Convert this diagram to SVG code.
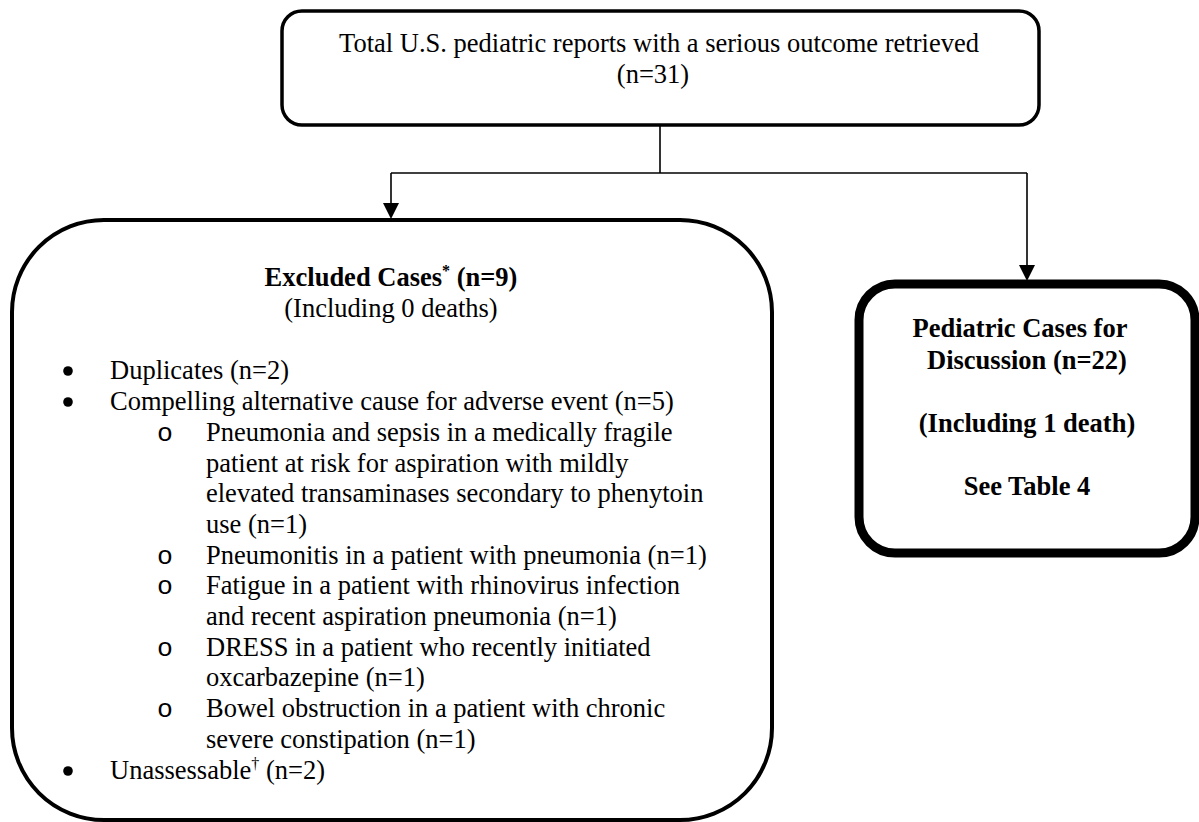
<svg xmlns="http://www.w3.org/2000/svg" width="1199" height="822" viewBox="0 0 1199 822">
<style>
.box{fill:#fff;stroke:#000}
.t{font-family:"Liberation Serif","Times New Roman",serif;font-size:26.5px;fill:#000}
.b{font-weight:bold}
.c{text-anchor:middle}
.m{font-family:"Liberation Mono","Courier New",monospace}
.sup{font-size:16px}
.dot{fill:#000}
.conn{fill:none;stroke:#000;stroke-width:1.6}
.head{fill:#000;stroke:none}
</style>
<rect width="1199" height="822" fill="#fff"/>
<g id="connectors">
<path class="conn" d="M660,125 V173"/>
<path class="conn" d="M391,173 H1027"/>
<path class="conn" d="M391,173 V205"/>
<path class="conn" d="M1027,173 V268"/>
<path class="head" d="M383,203 L399,203 L391,219 Z"/>
<path class="head" d="M1019,265 L1035,265 L1027,281 Z"/>
</g>
<g id="top">
<rect class="box" x="282" y="11" width="757" height="114" rx="20" stroke-width="3.5"/>
<text class="t c" x="659" y="52">Total U.S. pediatric reports with a serious outcome retrieved</text>
<text class="t c" x="653" y="83">(n=31)</text>
</g>
<g id="excluded">
<rect class="box" x="12" y="220" width="760" height="600" rx="92" stroke-width="4"/>
<text class="t c b" x="391" y="286">Excluded Cases<tspan class="sup" dy="-10">*</tspan><tspan dy="10"> (n=9)</tspan></text>
<text class="t c" x="391" y="317">(Including 0 deaths)</text>
<circle class="dot" cx="68" cy="371" r="4.8"/><text class="t" x="110" y="379">Duplicates (n=2)</text>
<circle class="dot" cx="68" cy="402" r="4.8"/><text class="t" x="110" y="410">Compelling alternative cause for adverse event (n=5)</text>
<text class="t m" x="157" y="441">o</text><text class="t" x="206" y="441">Pneumonia and sepsis in a medically fragile</text>
<text class="t" x="206" y="472">patient at risk for aspiration with mildly</text>
<text class="t" x="206" y="502">elevated transaminases secondary to phenytoin</text>
<text class="t" x="206" y="533">use (n=1)</text>
<text class="t m" x="157" y="564">o</text><text class="t" x="206" y="564">Pneumonitis in a patient with pneumonia (n=1)</text>
<text class="t m" x="157" y="594">o</text><text class="t" x="206" y="594">Fatigue in a patient with rhinovirus infection</text>
<text class="t" x="206" y="625">and recent aspiration pneumonia (n=1)</text>
<text class="t m" x="157" y="656">o</text><text class="t" x="206" y="656">DRESS in a patient who recently initiated</text>
<text class="t" x="206" y="686">oxcarbazepine (n=1)</text>
<text class="t m" x="157" y="717">o</text><text class="t" x="206" y="717">Bowel obstruction in a patient with chronic</text>
<text class="t" x="206" y="748">severe constipation (n=1)</text>
<circle class="dot" cx="68" cy="771" r="4.8"/><text class="t" x="110" y="779">Unassessable<tspan class="sup" dy="-10">†</tspan><tspan dy="10"> (n=2)</tspan></text>
</g>
<g id="discussion">
<rect class="box" x="859" y="284" width="336" height="269" rx="36" stroke-width="9"/>
<text class="t c b" x="1020" y="337">Pediatric Cases for</text>
<text class="t c b" x="1027" y="369">Discussion (n=22)</text>
<text class="t c b" x="1027" y="432">(Including 1 death)</text>
<text class="t c b" x="1027" y="495">See Table 4</text>
</g>
</svg>
